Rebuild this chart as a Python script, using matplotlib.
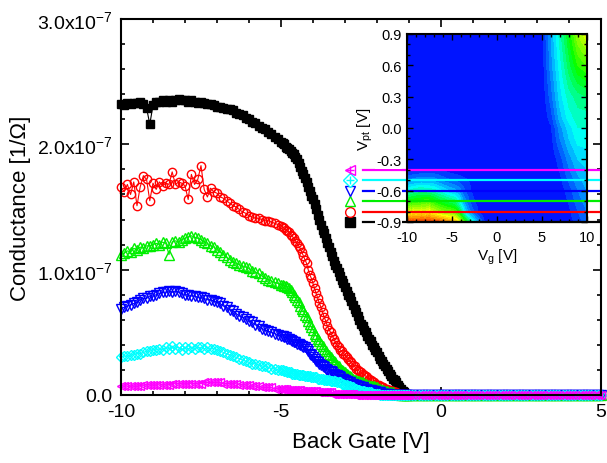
import numpy as np
import matplotlib
matplotlib.use("Agg")
import matplotlib.pyplot as plt
from matplotlib.colors import LinearSegmentedColormap
from matplotlib.ticker import FuncFormatter, MultipleLocator
from matplotlib.transforms import blended_transform_factory

plt.rcParams["font.family"] = ["Liberation Sans", "DejaVu Sans"]
plt.rcParams["mathtext.fontset"] = "custom"
plt.rcParams["mathtext.rm"] = "Liberation Sans"
plt.rcParams["mathtext.it"] = "Liberation Sans:italic"
plt.rcParams["axes.unicode_minus"] = False

# Back-gate sweep: 0.1 V steps to -5 V, 0.05 V steps through the turn-off,
# then 0.1 V steps from -1 V to 5 V
gate = np.round(np.concatenate([-10.0 + 0.1 * np.arange(50),
                                -5.0 + 0.05 * np.arange(80),
                                -1.0 + 0.1 * np.arange(61)]), 2)

# Conductance in units of 1e-7 S, measured from -10.0 V to -1.05 V
black = [2.32, 2.31, 2.33, 2.32, 2.33, 2.33, 2.34, 2.32, 2.29, 2.16,
         2.31, 2.34, 2.34, 2.35, 2.34, 2.35, 2.34, 2.35, 2.36, 2.35,
         2.35, 2.34, 2.35, 2.34, 2.33, 2.34, 2.33, 2.32, 2.32, 2.31,
         2.30, 2.30, 2.29, 2.28, 2.28, 2.27, 2.25, 2.24, 2.23, 2.21,
         2.20, 2.18, 2.17, 2.15, 2.13, 2.12, 2.10, 2.08, 2.06, 2.04,
         2.02, 2.01, 2.00, 1.98, 1.97, 1.96, 1.95, 1.93, 1.92, 1.90,
         1.88, 1.85, 1.82, 1.79, 1.76, 1.73, 1.70, 1.66, 1.63, 1.59,
         1.56, 1.52, 1.48, 1.44, 1.40, 1.36, 1.32, 1.29, 1.25, 1.21,
         1.18, 1.14, 1.11, 1.07, 1.04, 1.01, 0.98, 0.95, 0.92, 0.89,
         0.86, 0.83, 0.80, 0.78, 0.75, 0.72, 0.69, 0.66, 0.63, 0.60,
         0.57, 0.55, 0.52, 0.50, 0.47, 0.45, 0.43, 0.40, 0.38, 0.36,
         0.34, 0.31, 0.29, 0.27, 0.25, 0.23, 0.21, 0.19, 0.17, 0.15,
         0.13, 0.12, 0.10, 0.08, 0.06, 0.05, 0.03, 0.02, 0.01, 0.00]
red = [1.66, 1.62, 1.68, 1.60, 1.70, 1.51, 1.66, 1.75, 1.72, 1.55,
       1.69, 1.64, 1.70, 1.67, 1.69, 1.68, 1.78, 1.68, 1.70, 1.69,
       1.67, 1.56, 1.76, 1.68, 1.72, 1.83, 1.64, 1.58, 1.65, 1.62,
       1.61, 1.58, 1.57, 1.55, 1.53, 1.51, 1.50, 1.48, 1.46, 1.45,
       1.43, 1.42, 1.41, 1.41, 1.40, 1.39, 1.39, 1.38, 1.37, 1.36,
       1.35, 1.34, 1.33, 1.32, 1.31, 1.30, 1.28, 1.27, 1.25, 1.23,
       1.21, 1.19, 1.17, 1.14, 1.11, 1.08, 1.05, 1.00, 0.96, 0.93,
       0.89, 0.85, 0.81, 0.77, 0.73, 0.70, 0.66, 0.62, 0.59, 0.55,
       0.52, 0.50, 0.47, 0.45, 0.42, 0.40, 0.38, 0.36, 0.35, 0.33,
       0.32, 0.30, 0.29, 0.27, 0.26, 0.24, 0.23, 0.21, 0.20, 0.19,
       0.18, 0.17, 0.16, 0.15, 0.14, 0.13, 0.12, 0.11, 0.10, 0.09,
       0.08, 0.08, 0.07, 0.06, 0.06, 0.05, 0.05, 0.04, 0.04, 0.03,
       0.03, 0.02, 0.02, 0.01, 0.01, 0.01, 0.01, 0.00, 0.00, 0.00]
green = [1.12, 1.13, 1.15, 1.14, 1.17, 1.16, 1.18, 1.17, 1.19, 1.19,
         1.20, 1.21, 1.20, 1.22, 1.21, 1.12, 1.22, 1.23, 1.22, 1.24,
         1.25, 1.26, 1.27, 1.26, 1.25, 1.24, 1.22, 1.21, 1.19, 1.18,
         1.16, 1.14, 1.12, 1.10, 1.08, 1.06, 1.05, 1.04, 1.03, 1.02,
         1.01, 0.99, 0.98, 0.97, 0.95, 0.93, 0.92, 0.91, 0.90, 0.89,
         0.88, 0.88, 0.87, 0.87, 0.86, 0.85, 0.84, 0.82, 0.80, 0.78,
         0.76, 0.74, 0.71, 0.69, 0.67, 0.64, 0.62, 0.59, 0.57, 0.54,
         0.52, 0.49, 0.47, 0.45, 0.43, 0.41, 0.39, 0.37, 0.35, 0.33,
         0.32, 0.30, 0.29, 0.27, 0.26, 0.24, 0.23, 0.21, 0.20, 0.19,
         0.18, 0.17, 0.16, 0.15, 0.14, 0.13, 0.12, 0.12, 0.11, 0.11,
         0.10, 0.10, 0.09, 0.09, 0.08, 0.08, 0.07, 0.07, 0.07, 0.06,
         0.06, 0.05, 0.05, 0.04, 0.04, 0.03, 0.03, 0.02, 0.02, 0.02,
         0.02, 0.01, 0.01, 0.01, 0.01, 0.00, 0.00, 0.00, 0.00, 0.00]
blue = [0.69, 0.70, 0.71, 0.72, 0.73, 0.74, 0.76, 0.77, 0.77, 0.79,
        0.79, 0.80, 0.81, 0.82, 0.82, 0.83, 0.82, 0.83, 0.82, 0.81,
        0.80, 0.80, 0.79, 0.79, 0.78, 0.78, 0.77, 0.76, 0.76, 0.75,
        0.74, 0.73, 0.71, 0.70, 0.68, 0.67, 0.65, 0.63, 0.62, 0.61,
        0.59, 0.58, 0.56, 0.55, 0.53, 0.52, 0.51, 0.50, 0.49, 0.48,
        0.47, 0.47, 0.46, 0.46, 0.45, 0.45, 0.44, 0.43, 0.42, 0.42,
        0.41, 0.41, 0.40, 0.39, 0.38, 0.38, 0.37, 0.35, 0.33, 0.32,
        0.30, 0.29, 0.27, 0.26, 0.25, 0.24, 0.23, 0.22, 0.21, 0.20,
        0.19, 0.19, 0.18, 0.17, 0.16, 0.16, 0.15, 0.14, 0.13, 0.13,
        0.12, 0.11, 0.10, 0.10, 0.09, 0.09, 0.08, 0.08, 0.07, 0.07,
        0.06, 0.06, 0.05, 0.05, 0.04, 0.04, 0.04, 0.03, 0.03, 0.03,
        0.02, 0.02, 0.02, 0.01, 0.01, 0.01, 0.01, 0.01, 0.00, 0.00,
        0.00, 0.00, 0.00, 0.00, 0.00, 0.00, 0.00, 0.00, 0.00, 0.00]
cyan = [0.30, 0.31, 0.31, 0.32, 0.32, 0.33, 0.33, 0.34, 0.35, 0.35,
        0.36, 0.36, 0.37, 0.36, 0.38, 0.37, 0.39, 0.37, 0.38, 0.36,
        0.38, 0.37, 0.38, 0.37, 0.38, 0.38, 0.37, 0.38, 0.37, 0.37,
        0.36, 0.35, 0.34, 0.33, 0.32, 0.31, 0.30, 0.29, 0.28, 0.27,
        0.26, 0.25, 0.25, 0.24, 0.23, 0.23, 0.22, 0.21, 0.21, 0.20,
        0.20, 0.20, 0.19, 0.19, 0.18, 0.18, 0.18, 0.17, 0.17, 0.17,
        0.17, 0.16, 0.16, 0.16, 0.16, 0.15, 0.15, 0.15, 0.15, 0.14,
        0.14, 0.14, 0.14, 0.13, 0.13, 0.13, 0.13, 0.12, 0.12, 0.12,
        0.12, 0.11, 0.11, 0.11, 0.11, 0.10, 0.10, 0.10, 0.09, 0.09,
        0.08, 0.08, 0.07, 0.07, 0.06, 0.06, 0.05, 0.05, 0.04, 0.04,
        0.03, 0.03, 0.03, 0.02, 0.02, 0.02, 0.02, 0.01, 0.01, 0.01,
        0.01, 0.01, 0.00, 0.00, 0.00, 0.00, 0.00, 0.00, 0.00, 0.00,
        0.00, 0.00, 0.00, 0.00, 0.00, 0.00, 0.00, 0.00, 0.00, 0.00]
magenta = [0.07, 0.07, 0.07, 0.07, 0.07, 0.07, 0.07, 0.08, 0.08, 0.08,
           0.08, 0.08, 0.08, 0.08, 0.08, 0.08, 0.09, 0.09, 0.09, 0.09,
           0.09, 0.09, 0.09, 0.09, 0.09, 0.09, 0.10, 0.10, 0.10, 0.10,
           0.10, 0.10, 0.09, 0.09, 0.09, 0.09, 0.09, 0.08, 0.08, 0.08,
           0.08, 0.07, 0.07, 0.07, 0.06, 0.06, 0.06, 0.06, 0.05, 0.05,
           0.05, 0.05, 0.05, 0.05, 0.04, 0.04, 0.04, 0.04, 0.04, 0.04,
           0.04, 0.04, 0.04, 0.03, 0.03, 0.03, 0.03, 0.03, 0.03, 0.03,
           0.03, 0.03, 0.03, 0.02, 0.02, 0.02, 0.02, 0.02, 0.02, 0.02,
           0.02, 0.02, 0.01, 0.01, 0.01, 0.01, 0.01, 0.01, 0.01, 0.01,
           0.01, 0.01, 0.01, 0.01, 0.01, 0.01, 0.00, 0.00, 0.00, 0.00,
           0.00, 0.00, 0.00, 0.00, 0.00, 0.00, 0.00, 0.00, 0.00, 0.00,
           0.00, 0.00, 0.00, 0.00, 0.00, 0.00, 0.00, 0.00, 0.00, 0.00,
           0.00, 0.00, 0.00, 0.00, 0.00, 0.00, 0.00, 0.00, 0.00, 0.00]
# device is off from -1.0 V to 5.0 V
off_tail = [0.0] * 61

# Top-gate voltage of each trace
vpt_levels = [-0.9, -0.8, -0.7, -0.6, -0.5, -0.4]
traces = [black, red, green, blue, cyan, magenta]
colors = ["#000000", "#ff0000", "#00ee00", "#0000ff", "#00ffff", "#ff00ff"]
markers = ["s", "o", "^", "v", "D", "<"]
msizes = [6.0, 6.0, 6.5, 6.5, 5.0, 5.5]

# Electron-branch conductance (1e-7 S) for the map, rows = V_pt, cols = V_g
e_vg = [4, 5, 6, 7, 8, 9, 10]
e_vpt = [-0.9, -0.6, -0.3, -0.1, 0.0, 0.1, 0.3, 0.6, 0.9]
e_map = [[0, 0.00, 0.00, 0.00, 0.04, 0.15, 0.25],
         [0, 0.00, 0.00, 0.03, 0.15, 0.30, 0.40],
         [0, 0.00, 0.02, 0.15, 0.35, 0.50, 0.55],
         [0, 0.00, 0.06, 0.30, 0.50, 0.65, 0.65],
         [0, 0.00, 0.08, 0.35, 0.55, 0.70, 0.70],
         [0, 0.00, 0.15, 0.45, 0.65, 0.75, 0.75],
         [0, 0.01, 0.25, 0.55, 0.75, 0.85, 0.90],
         [0, 0.03, 0.35, 0.65, 0.95, 1.20, 1.30],
         [0, 0.05, 0.40, 0.75, 1.10, 1.50, 1.70]]

fig = plt.figure(figsize=(6.07, 4.64), dpi=100)
ax = fig.add_axes([0.1993, 0.1466, 0.7908, 0.8103])

for y, c, m, ms in zip(traces, colors, markers, msizes):
    g = np.array(list(y) + off_tail) * 1e-7
    filled = (m == "s")
    ax.plot(gate, g, color=c, lw=0.8, marker=m, ms=ms, clip_on=False,
            mfc=c if filled else "none", mec=c, mew=1.0)

ax.set_xlim(-10, 5)
ax.set_ylim(0, 3e-7)
ax.xaxis.set_major_locator(MultipleLocator(5))
ax.xaxis.set_minor_locator(MultipleLocator(1))
ax.yaxis.set_major_locator(MultipleLocator(1e-7))
ax.yaxis.set_minor_locator(MultipleLocator(0.2e-7))


def yfmt(v, pos):
    if abs(v) < 1e-12:
        return "0.0"
    return r"%.1fx10$^{-7}$" % (v / 1e-7)


ax.yaxis.set_major_formatter(FuncFormatter(yfmt))
ax.tick_params(which="both", direction="in", top=True, right=True,
               labelsize=14, width=1.2)
ax.tick_params(which="major", length=6, pad=6)
ax.tick_params(which="minor", length=3)
for s in ax.spines.values():
    s.set_linewidth(1.5)
ax.set_xlabel("Back Gate [V]", fontsize=16, labelpad=8)
ax.set_ylabel("Conductance [1/\u03a9]", fontsize=16, labelpad=4)

# Inset: conductance map versus back gate and top gate
axi = fig.add_axes([0.6705, 0.5194, 0.2965, 0.4052])
vg_f = np.linspace(-10, 10, 201)
vpt_f = np.linspace(-0.9, 0.9, 181)

h_vpt = vpt_levels + [-0.3, 0.9]
h_rows = [np.interp(vg_f, gate, np.array(list(y) + off_tail)) for y in traces]
h_rows += [np.zeros_like(vg_f), np.zeros_like(vg_f)]
h_rows = np.array(h_rows)
hole = np.array([np.interp(vpt_f, h_vpt, h_rows[:, j]) for j in range(len(vg_f))]).T

e_rows = np.array([np.interp(vg_f, e_vg, r) for r in e_map])
elec = np.array([np.interp(vpt_f, e_vpt, e_rows[:, j]) for j in range(len(vg_f))]).T

cmap = LinearSegmentedColormap.from_list(
    "rb", [(0.0, "#0000ff"), (0.25, "#00ffff"), (0.45, "#00ff00"),
           (0.7, "#ffff00"), (1.0, "#ff0000")])
axi.contourf(vg_f, vpt_f, hole + elec, levels=np.linspace(0, 2.5, 26),
             cmap=cmap, extend="max", zorder=1)
axi.set_xlim(-10, 10)
axi.set_ylim(-0.9, 0.9)
axi.set_axisbelow(False)
axi.set_xticks([-10, -5, 0, 5, 10])
axi.xaxis.set_minor_locator(MultipleLocator(1))
axi.set_yticks([-0.9, -0.6, -0.3, 0.0, 0.3, 0.6, 0.9])
axi.set_yticklabels(["-0.9", "-0.6", "-0.3", "0.0", "0.3", "0.6", "0.9"])
axi.set_xticklabels(["-10", "-5", "0", "5", "10"])
axi.yaxis.set_minor_locator(MultipleLocator(0.1))
axi.tick_params(which="both", direction="in", top=True, right=True,
                labelsize=10.5, width=1.0)
axi.tick_params(axis="x", which="major", pad=6)
axi.tick_params(axis="y", which="major", pad=4)
axi.tick_params(which="major", length=4)
axi.tick_params(which="minor", length=2)
for s in axi.spines.values():
    s.set_linewidth(1.5)
for lab in axi.get_yticklabels():
    lab.set_bbox(dict(facecolor="white", edgecolor="none", pad=0.6))
axi.set_xlabel(r"V$_\mathrm{g}$ [V]", fontsize=11, labelpad=2)
axi.set_ylabel(r"V$_\mathrm{pt}$ [V]", fontsize=11, labelpad=1)

# Cuts through the map at each top-gate voltage, keyed by the trace symbol
tr = blended_transform_factory(axi.transAxes, axi.transData)
for v, c, m in zip(vpt_levels, colors, markers):
    axi.plot([-0.244, 1.067], [v, v], transform=tr, clip_on=False,
             color=c, lw=1.6, zorder=2)
    filled = (m == "s")
    axi.plot([-0.317], [v], transform=tr, clip_on=False, ls="none",
             marker=m, ms=7, mfc=c if filled else "white", mec=c, mew=1.0,
             zorder=3)
    if m in ("<", "D"):
        axi.plot([-0.317], [v], transform=tr, clip_on=False, ls="none",
                 marker="+", ms=6, mec=c, mew=1.0, zorder=3)

fig.savefig("out.png", dpi=100)
